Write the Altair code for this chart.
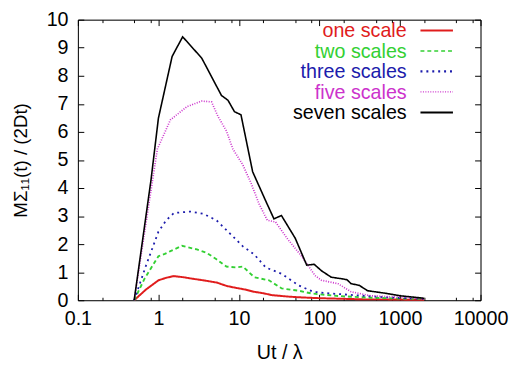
import altair as alt
import pandas as pd

names = ["one scale", "two scales", "three scales", "five scales", "seven scales"]
colors = ["#e01c1c", "#33d033", "#1c1cac", "#cc33cc", "#000000"]

one_x = [0.5, 0.7, 1.0, 1.25, 1.55, 2.05, 2.6, 3.6, 5.3, 7.0, 9.2, 12, 15.5, 20, 26, 41, 60, 106, 200, 360, 700, 1200, 2000]
one_y = [0, 0.38, 0.71, 0.8, 0.86, 0.82, 0.77, 0.71, 0.63, 0.51, 0.44, 0.38, 0.30, 0.25, 0.18, 0.13, 0.10, 0.07, 0.05, 0.03, 0.03, 0.02, 0.02]

two_x = [0.5, 0.67, 1.0, 1.2, 1.41, 1.96, 3.0, 3.97, 5.26, 7.0, 9.2, 11.2, 15.5, 23.6, 34, 55, 80, 170, 430, 1000, 2000]
two_y = [0, 0.76, 1.57, 1.65, 1.75, 1.94, 1.81, 1.69, 1.46, 1.20, 1.17, 1.20, 0.82, 0.71, 0.42, 0.34, 0.24, 0.15, 0.09, 0.06, 0.05]

three_x = [0.5, 0.7, 1.0, 1.25, 1.56, 2.49, 3.62, 5.26, 7.65, 11.2, 15.5, 21.5, 34, 55, 84, 140, 270, 690, 2000]
three_y = [0, 1.23, 2.44, 2.85, 3.11, 3.16, 3.08, 2.85, 2.39, 1.92, 1.63, 1.17, 0.94, 0.53, 0.30, 0.24, 0.18, 0.10, 0.05]

five_x = [0.5, 0.97, 1.41, 2.26, 3.45, 4.57, 5.5, 7.0, 8.4, 11.2, 14.1, 17.8, 22.5, 28.5, 41, 60, 88, 106, 170, 247, 433, 1100, 2000]
five_y = [0, 5.39, 6.43, 6.9, 7.1, 7.07, 6.55, 6.03, 5.39, 4.82, 4.18, 3.43, 2.85, 2.79, 2.15, 1.57, 0.88, 0.71, 0.59, 0.30, 0.16, 0.10, 0.05]

seven_x = [0.5, 0.81, 1.0, 1.48, 2.0, 3.45, 6.06, 7.3, 8.8, 10.6, 14.8, 21.5, 27.2, 33.7, 50, 69.5, 86, 106, 140, 195, 220, 247, 312, 395, 690, 1000, 2000]
seven_y = [0, 4.3, 6.49, 8.69, 9.39, 8.63, 7.30, 7.13, 6.72, 6.61, 4.58, 3.54, 2.9, 3.02, 2.21, 1.25, 1.28, 1.05, 0.82, 0.76, 0.73, 0.59, 0.53, 0.34, 0.24, 0.16, 0.07]

series_x = [one_x, two_x, three_x, five_x, seven_x]
series_y = [one_y, two_y, three_y, five_y, seven_y]

x_major = [0.1, 1, 10, 100, 1000, 10000]
x_minor = [0.2, 0.5, 0.8, 2, 5, 8, 20, 50, 80, 200, 500, 800, 2000, 5000, 8000]
y_major = [0, 1, 2, 3, 4, 5, 6, 7, 8, 9, 10]

TOP = 9
W, H = 409, 302 - 8 - TOP
FONT = "Liberation Sans"
FS = 20

widths = [2, 1.6, 2.2, 1.3, 2]
dashes = [[1, 0], [4, 3], [2, 4], [1, 1.5], [1, 0]]

xscale = alt.Scale(type="log", domain=[0.1, 10000])
yscale = alt.Scale(domain=[0, 10], nice=False, zero=False)

INWARD6 = alt.ExprRef(expr="-6")
INWARD3 = alt.ExprRef(expr="-3")

x_axis = alt.Axis(values=x_major, format="~g", title="Ut / λ", labelFlush=False,
                  orient="bottom", ticks=True, tickSize=INWARD6, tickColor="#000",
                  domain=True, domainColor="#000", grid=False, labelPadding=15,
                  labelFont=FONT, labelFontSize=FS, labelColor="#000",
                  titleFont=FONT, titleFontSize=FS, titleFontWeight="normal",
                  titleColor="#000", titlePadding=14)
y_axis = alt.Axis(values=y_major, title="MΣ₁₁(t) / (2Dt)", orient="left",
                  ticks=True, tickSize=INWARD6, tickColor="#000",
                  domain=True, domainColor="#000", grid=False, labelPadding=16,
                  labelFont=FONT, labelFontSize=FS, labelColor="#000",
                  titleFont=FONT, titleFontSize=19, titleFontWeight="normal",
                  titleColor="#000", titlePadding=16)

rows = []
for i, (nm, xs, ys) in enumerate(zip(names, series_x, series_y)):
    for xv, yv in zip(xs, ys):
        rows.append({"x": xv, "y": yv, "series": nm})
long_df = pd.DataFrame(rows)

lines = alt.Chart(long_df).mark_line().encode(
    x=alt.X("x:Q", scale=xscale, axis=x_axis),
    y=alt.Y("y:Q", scale=yscale, axis=y_axis),
    color=alt.Color("series:N", scale=alt.Scale(domain=names, range=colors), legend=None),
    strokeDash=alt.StrokeDash("series:N", scale=alt.Scale(domain=names, range=dashes), legend=None),
    strokeWidth=alt.StrokeWidth("series:N", scale=alt.Scale(domain=names, range=widths), legend=None),
)

dxmaj = pd.DataFrame({"x": x_major})
dxmin = pd.DataFrame({"x": x_minor})
dymaj = pd.DataFrame({"y": y_major})

# mirrored axes: top and right frame with inward ticks, plus minor x ticks
top_major = alt.Chart(dxmaj).mark_point(opacity=0).encode(
    x=alt.X("x:Q", scale=xscale, axis=alt.Axis(
        orient="top", values=x_major, labels=False, title=None, grid=False,
        ticks=True, tickSize=INWARD6, tickColor="#000", domain=True, domainColor="#000")),
    y=alt.value(0))
right_major = alt.Chart(dymaj).mark_point(opacity=0).encode(
    y=alt.Y("y:Q", scale=yscale, axis=alt.Axis(
        orient="right", values=y_major, labels=False, title=None, grid=False,
        ticks=True, tickSize=INWARD6, tickColor="#000", domain=True, domainColor="#000")),
    x=alt.value(0))
bottom_minor = alt.Chart(dxmin).mark_point(opacity=0).encode(
    x=alt.X("x:Q", scale=xscale, axis=alt.Axis(
        orient="bottom", values=x_minor, labels=False, title=None, grid=False,
        ticks=True, tickSize=INWARD3, tickColor="#000", domain=False)),
    y=alt.value(0))
top_minor = alt.Chart(dxmin).mark_point(opacity=0).encode(
    x=alt.X("x:Q", scale=xscale, axis=alt.Axis(
        orient="top", values=x_minor, labels=False, title=None, grid=False,
        ticks=True, tickSize=INWARD3, tickColor="#000", domain=False)),
    y=alt.value(0))

# legend
leg_layers = []
for i, nm in enumerate(names):
    ry = 28 + i * 20.8 - 8 - TOP
    dl = pd.DataFrame({"label": [nm]})
    leg_layers.append(alt.Chart(dl).mark_text(align="right", baseline="middle", font=FONT,
                                              fontSize=FS, color=colors[i], dy=1).encode(
        text="label:N", x=alt.value(334), y=alt.value(ry)))
    leg_layers.append(alt.Chart(dl).mark_rule(color=colors[i], strokeWidth=widths[i],
                                              strokeDash=dashes[i]).encode(
        x=alt.value(348), x2=alt.value(381), y=alt.value(ry)))

chart = alt.layer(lines, top_major, right_major, bottom_minor, top_minor,
                  *leg_layers).resolve_axis(
    x="independent", y="independent"
).properties(
    width=W, height=H,
    padding={"left": 71, "top": TOP, "right": 33, "bottom": 361 - TOP - H},
    autosize=alt.AutoSizeParams(type="none"),
)

chart.save("out.html", embed_options={"renderer": "svg", "actions": False})
